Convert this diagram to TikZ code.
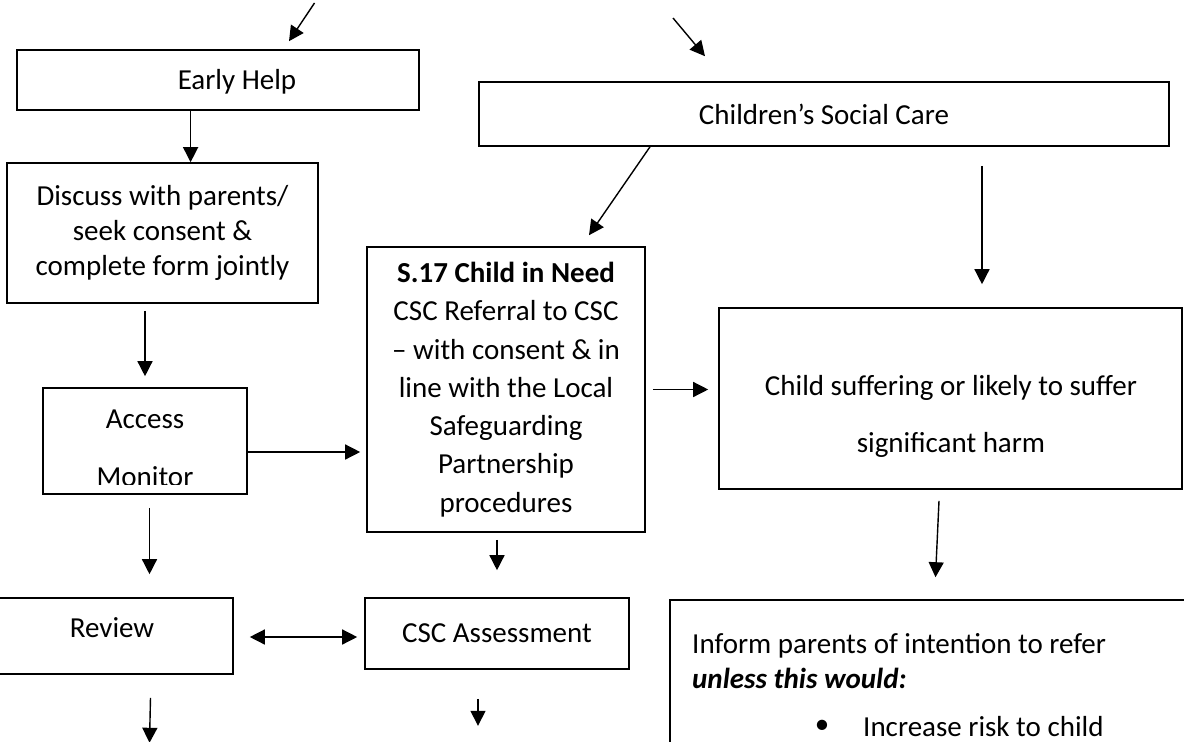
\documentclass[tikz,border=0pt]{standalone}
\usepackage{fontspec}
\setmainfont{Carlito}
\usetikzlibrary{arrows.meta}

\begin{document}
\begin{tikzpicture}
[x=1pt,y=-1pt,%
  every node/.style={font=\fontsize{29}{35}\selectfont},%
  box/.style={draw,line width=1.6pt,inner sep=0pt,align=center},%
  txt/.style={inner sep=0pt,align=center},%
  arr/.style={-{Triangle[width=15pt,length=15pt]},line width=1.4pt},%
  dblarr/.style={{Triangle[width=15pt,length=15pt]}-{Triangle[width=15pt,length=15pt]},line width=1.4pt}]
\clip (0,0) rectangle (1184,742);
% boxes
\node[box,minimum width=402pt,minimum height=60pt] (early) at (218,80) {};
\node[txt] (earlytxt) at (237,82) {Early Help};
\node[box,minimum width=311pt,minimum height=140pt] (discuss) at (162.5,233)
  {Discuss with parents/\\seek consent \&\\complete form jointly};
\node[box,minimum width=204pt,minimum height=106pt] (access) at (145,441) {};
\begin{scope}
\clip (45,390) rectangle (245,484);
\node[txt,font=\fontsize{29}{58}\selectfont] (accesstxt) at (145,448) {Access\\Monitor};
\end{scope}
\node[box,minimum width=690pt,minimum height=64pt] (csc) at (824,114) {Children’s Social Care};
\node[box,minimum width=278pt,minimum height=285pt,font=\fontsize{29}{38.3}\selectfont] (s17) at (506,389.5)
  {\textbf{S.17 Child in Need}\\CSC Referral to CSC\\– with consent \& in\\line with the Local\\Safeguarding\\Partnership\\procedures};
\node[box,minimum width=463pt,minimum height=181pt] (child) at (950.5,398.5) {};
\node[txt,font=\fontsize{29}{57}\selectfont] (childtxt) at (951,416)
  {Child suffering or likely to suffer\\significant harm};
\node[box,minimum width=238pt,minimum height=76pt] (review) at (114,636) {};
\node[txt] (reviewtxt) at (112,628) {Review};
\node[box,minimum width=264pt,minimum height=71pt] (assess) at (497,633.5) {CSC Assessment};
\node[box,minimum width=516pt,minimum height=200pt] (inform) at (928,700) {};
\node[txt,anchor=base west] (inform1) at (692,653) {Inform parents of intention to refer};
\node[txt,anchor=base west] (inform2) at (692,688) {\textbf{\textit{unless this would:}}};
\node[txt] (bullet) at (822,727) {\textbullet};
\node[txt,anchor=base west] (inform3) at (863,736) {Increase risk to child};
% arrows
\coordinate (ehsrc) at (314.5,3);
\coordinate (cscsrc) at (673,18);
\draw[arr] (ehsrc) -- ([xshift=71pt,yshift=8pt]early.north);
\draw[arr] (cscsrc) -- ([xshift=-119pt,yshift=25pt]csc.north);
\draw[arr] ([xshift=-27.4pt]early.south) -- ([xshift=-27.4pt]early.south |- discuss.north);
\draw[arr,shorten <=7pt,shorten >=11pt] (access.north |- discuss.south) -- (access.north);
\draw[arr,shorten >=6pt] ([yshift=-11pt]access.east) -- ([yshift=-11pt]access.east -| s17.west);
\draw[arr] ([xshift=-174pt]csc.south) -- ([xshift=83pt,yshift=11pt]s17.north);
\draw[arr,shorten <=19pt,shorten >=23pt] ([xshift=31.5pt]child.north |- csc.south) -- ([xshift=31.5pt]child.north);
\draw[arr,shorten <=7pt,shorten >=10pt] ([yshift=9pt]child.west -| s17.east) -- ([yshift=9pt]child.west);
\draw[arr,shorten <=13pt,shorten >=23pt] ([xshift=4.5pt]access.south) -- ([xshift=35.5pt]review.north);
\draw[arr,shorten <=7pt,shorten >=27pt] (assess.north |- s17.south) -- (assess.north);
\draw[dblarr,shorten <=16pt,shorten >=7pt] (review.east |- 0,637) -- (assess.west |- 0,637);
\draw[arr] ([xshift=-11.5pt,yshift=-11pt]child.south) -- ([xshift=7.5pt,yshift=22pt]inform.north);
\draw[arr,shorten <=23pt] ([xshift=37pt]review.south) -- ++(-1.5,68);
\draw[arr,shorten <=29pt] ([xshift=-19pt]assess.south) -- ++(0,56);
\end{tikzpicture}
\end{document}
